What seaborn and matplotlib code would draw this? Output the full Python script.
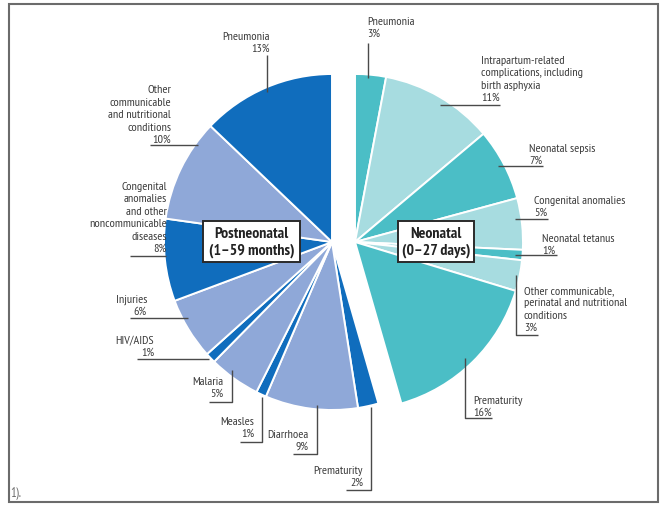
import matplotlib
matplotlib.use("Agg")
import matplotlib.pyplot as plt
import seaborn as sns
from matplotlib import font_manager
from matplotlib.patches import Rectangle

# Causes of death and their shares (%), neonatal half listed clockwise from the top,
# postneonatal half continuing clockwise from the bottom.
neonatal_causes = [
    "Pneumonia",
    "Intrapartum-related\ncomplications, including\nbirth asphyxia",
    "Neonatal sepsis",
    "Congenital anomalies",
    "Neonatal tetanus",
    "Other communicable,\nperinatal and nutritional\nconditions",
    "Prematurity",
]
neonatal_pct = [3, 11, 7, 5, 1, 3, 16]

post_causes = [
    "Prematurity",
    "Diarrhoea",
    "Measles",
    "Malaria",
    "HIV/AIDS",
    "Injuries",
    "Congenital\nanomalies\nand other\nnoncommunicable\ndiseases",
    "Other\ncommunicable\nand nutritional\nconditions",
    "Pneumonia",
]
post_pct = [2, 9, 1, 5, 1, 6, 8, 10, 13]

group_titles = ["Postneonatal\n(1\u201359 months)", "Neonatal\n(0\u201327 days)"]

# Label anchor (x, centre of the last line) and leader polylines, in pixels
neo_label_xy = [(367, 33), (481, 97), (529, 160), (534, 212), (542, 250), (524, 327), (473, 412)]
neo_leaders = [
    [(368, 43), (368, 78)],
    [(440, 105), (500, 105)],
    [(498, 166), (543, 166)],
    [(515, 219), (548, 219)],
    [(515, 255), (557, 255)],
    [(516, 275), (516, 335), (538, 335)],
    [(465, 358), (465, 418), (492, 418)],
]
post_label_xy = [(363, 482), (309, 446), (254, 433), (223, 393), (154, 352), (147, 311),
                 (167, 248), (171, 139), (270, 48)]
post_leaders = [
    [(346, 490), (371, 490), (371, 407)],
    [(293, 454), (317, 454), (317, 405)],
    [(240, 442), (262, 442), (262, 397)],
    [(209, 402), (232, 402), (232, 370)],
    [(137, 359), (209, 359)],
    [(130, 318), (188, 318)],
    [(130, 256), (166, 256)],
    [(150, 145), (198, 145)],
    [(267, 55), (267, 92)],
]

DARK_BLUE, LIGHT_BLUE = "#106dbd", "#8fa8d8"
TEAL, LIGHT_TEAL = "#4bbec6", "#a7dce0"
neo_colors = [TEAL if i % 2 == 0 else LIGHT_TEAL for i in range(len(neonatal_pct))]
post_colors = [DARK_BLUE if i % 2 == 0 else LIGHT_BLUE for i in range(len(post_pct))]

sns.set_theme(style="white")
installed = {f.name for f in font_manager.fontManager.ttflist}
narrow = next((n for n in ["PT Sans Narrow", "Fira Sans Condensed", "Roboto Condensed",
                           "Archivo Narrow", "Liberation Sans Narrow", "Liberation Sans"]
               if n in installed), "DejaVu Sans")
plt.rcParams["font.family"] = [narrow, "DejaVu Sans"]

W, H = 662, 505
fig = plt.figure(figsize=(W / 100, H / 100), dpi=100)
ax = fig.add_axes([0, 0, 1, 1])

total = sum(neonatal_pct) + sum(post_pct)
radius = 168
cy = 242
neo_centre = (355, cy)
post_centre = (332, cy)

# y axis runs downward, so start at -90 and go counter-clockwise in data space
wedge_kw = dict(edgecolor="white", linewidth=1.4)
ax.pie([v / total for v in neonatal_pct], colors=neo_colors, radius=radius,
       center=neo_centre, startangle=-90, counterclock=True, normalize=False,
       wedgeprops=wedge_kw, frame=False)
neo_span = 360 * sum(neonatal_pct) / total
ax.pie([v / total for v in post_pct], colors=post_colors, radius=radius,
       center=post_centre, startangle=-90 + neo_span, counterclock=True, normalize=False,
       wedgeprops=wedge_kw, frame=False)

ax.set_xlim(0, W)
ax.set_ylim(H, 0)
ax.set_aspect("auto")
ax.axis("off")

text_color = "#3a3a3a"
line_color = "#4a4a4a"
fs = 8.7
ls = 1.3


def put_labels(causes, pcts, xy, leaders, ha):
    for name, pct, (x, y), pts in zip(causes, pcts, xy, leaders):
        ax.text(x, y + 6, f"{name}\n{pct}%", ha=ha, va="bottom", multialignment=ha,
                fontsize=fs, color=text_color, linespacing=ls)
        xs, ys = zip(*pts)
        ax.plot(xs, ys, color=line_color, lw=1.0, solid_capstyle="butt")


put_labels(neonatal_causes, neonatal_pct, neo_label_xy, neo_leaders, "left")
put_labels(post_causes, post_pct, post_label_xy, post_leaders, "right")

# Group title boxes
for (bx, by, bw, bh), title in zip([(203, 221, 97, 41), (398, 221, 76, 41)], group_titles):
    ax.add_patch(Rectangle((bx, by), bw, bh, facecolor="white", edgecolor="#2a2a2a",
                           linewidth=1.4, zorder=5))
    ax.text(bx + bw / 2, by + bh / 2 + 1, title, ha="center", va="center",
            fontsize=11.4, fontweight="bold", color="#222222", linespacing=1.25, zorder=6)

# Outer frame
ax.add_patch(Rectangle((9, 4), 649, 498, fill=False, edgecolor="#6b6b6b",
                       linewidth=1.5, clip_on=False))
ax.text(10, 493, "1).", ha="left", va="center", fontsize=9, color="#6a6a6a")

fig.savefig("out.png", dpi=100, facecolor="white")
